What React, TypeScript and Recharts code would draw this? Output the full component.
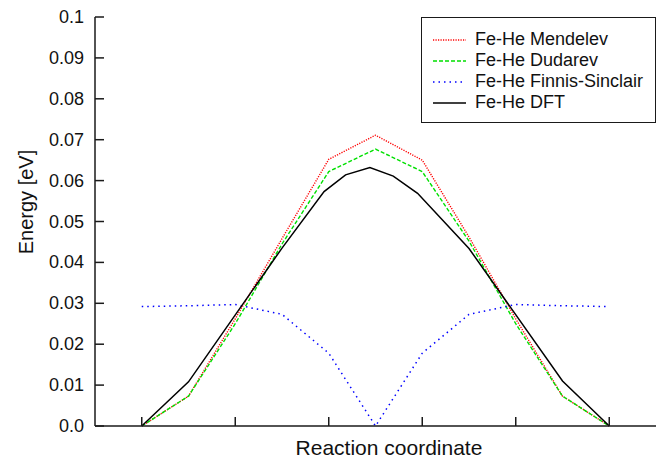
import React from "react";
import { LineChart, Line, XAxis, YAxis, Legend, Label } from "recharts";

// Reaction coordinate positions (axis units) and energies [eV]
const mendelevX = [0.5, 1.0, 1.5, 2.0, 2.5, 3.0, 3.5, 4.0, 4.5, 5.0, 5.5];
const mendelevY = [0, 0.0073, 0.0262, 0.0458, 0.0652, 0.0711, 0.065, 0.0462, 0.0262, 0.0073, 0];

const dudarevX = [0.5, 1.0, 1.5, 2.0, 2.5, 3.0, 3.5, 4.0, 4.5, 5.0, 5.5];
const dudarevY = [0, 0.0073, 0.025, 0.0445, 0.0622, 0.0677, 0.0622, 0.0452, 0.025, 0.0073, 0];

const finnisX = [0.5, 1.0, 1.5, 2.0, 2.5, 3.0, 3.5, 4.0, 4.5, 5.0, 5.5];
const finnisY = [0.0292, 0.0294, 0.0297, 0.0273, 0.0178, 0, 0.0178, 0.0273, 0.0297, 0.0294, 0.0292];

const dftX = [0.5, 1.0, 2.0, 2.45, 2.68, 2.94, 3.19, 3.45, 4.0, 5.0, 5.5];
const dftY = [0, 0.0108, 0.0435, 0.0573, 0.0614, 0.0632, 0.0611, 0.0569, 0.0434, 0.011, 0];

const xTicks = [0.5, 1.5, 2.5, 3.5, 4.5, 5.5];
const yTicks = [0, 0.01, 0.02, 0.03, 0.04, 0.05, 0.06, 0.07, 0.08, 0.09, 0.1];

const seriesNames = ["Fe-He Mendelev", "Fe-He Dudarev", "Fe-He Finnis-Sinclair", "Fe-He DFT"];
const xTitle = "Reaction coordinate";
const yTitle = "Energy [eV]";

const zip = (xs: number[], ys: number[]) => xs.map((x, i) => ({ x, y: ys[i] }));

const W = 662;
const H = 460;
const PL = 95;
const PR = 656;
const PT = 17;
const PB = 426;
const TICK = 9;
const FONT = "'Liberation Sans', Arial, Helvetica, sans-serif";
const AX = "#1a1a1a";

const styles = [
  { color: "#ff0000", dash: "1.2 1.3", width: 1.4 },
  { color: "#00e000", dash: "4 2", width: 1.4 },
  { color: "#0000ff", dash: "1.5 4", width: 1.5 },
  { color: "#000000", dash: undefined as string | undefined, width: 1.5 },
];

const fmtY = (v: number) => (v === 0 ? "0.0" : v === 0.1 ? "0.1" : v.toFixed(2));

const LeftTick = (props: any) => {
  const { y, payload } = props;
  return (
    <g>
      <line x1={PL} x2={PL + TICK} y1={y} y2={y} stroke={AX} strokeWidth={1.5} />
      <text x={84} y={y} textAnchor="end" dominantBaseline="central" fontSize={18} fontFamily={FONT} fill="#111">
        {fmtY(payload.value)}
      </text>
    </g>
  );
};
const RightTick = (props: any) => {
  const { y } = props;
  return <line x1={PR} x2={PR - TICK} y1={y} y2={y} stroke={AX} strokeWidth={1.5} />;
};
const BottomTick = (props: any) => {
  const { x } = props;
  return <line x1={x} x2={x} y1={PB} y2={PB - TICK} stroke={AX} strokeWidth={1.5} />;
};
const TopTick = (props: any) => {
  const { x } = props;
  return <line x1={x} x2={x} y1={PT} y2={PT + TICK} stroke={AX} strokeWidth={1.5} />;
};

const LegendBox = () => (
  <div
    style={{
      width: 235,
      height: 106,
      boxSizing: "border-box",
      border: `1.5px solid ${AX}`,
      background: "#fff",
      paddingTop: 11,
      paddingLeft: 11,
      fontFamily: FONT,
      fontSize: 18,
      color: "#111",
    }}
  >
    {seriesNames.map((name, i) => (
      <div key={name} style={{ height: 21, display: "flex", alignItems: "center", whiteSpace: "nowrap" }}>
        <svg width={33} height={6} style={{ marginRight: 9, flex: "none" }}>
          <line
            x1={0}
            x2={33}
            y1={3}
            y2={3}
            stroke={styles[i].color}
            strokeWidth={styles[i].width}
            strokeDasharray={styles[i].dash}
          />
        </svg>
        <span>{name}</span>
      </div>
    ))}
  </div>
);

export default function App() {
  const series = [
    zip(mendelevX, mendelevY),
    zip(dudarevX, dudarevY),
    zip(finnisX, finnisY),
    zip(dftX, dftY),
  ];
  return (
    <div style={{ position: "absolute", left: 0, top: 0, width: W, height: H, background: "#fff" }}>
      <LineChart width={W} height={H} margin={{ top: PT, right: W - PR, bottom: 0, left: 0 }}>
        <XAxis
          xAxisId="b"
          type="number"
          dataKey="x"
          domain={[0, 6]}
          ticks={xTicks}
          allowDuplicatedCategory={false}
          height={H - PB}
          axisLine={{ stroke: AX, strokeWidth: 1.5 }}
          tickLine={false}
          tick={<BottomTick />}
        >
          <Label
            content={() => (
              <text x={389} y={455} textAnchor="middle" fontSize={21} fontFamily={FONT} fill="#111">
                {xTitle}
              </text>
            )}
          />
        </XAxis>
        <XAxis
          xAxisId="t"
          orientation="top"
          type="number"
          dataKey="x"
          domain={[0, 6]}
          ticks={xTicks}
          height={0}
          axisLine={{ stroke: AX, strokeWidth: 1.5 }}
          tickLine={false}
          tick={<TopTick />}
        />
        <YAxis
          yAxisId="l"
          type="number"
          domain={[0, 0.1]}
          ticks={yTicks}
          width={PL}
          axisLine={{ stroke: AX, strokeWidth: 1.5 }}
          tickLine={false}
          tick={<LeftTick />}
          interval={0}
        >
          <Label
            content={() => (
              <text
                x={33}
                y={202}
                textAnchor="middle"
                fontSize={20}
                fontFamily={FONT}
                fill="#111"
                transform={`rotate(-90, 33, 202)`}
              >
                {yTitle}
              </text>
            )}
          />
        </YAxis>
        <YAxis
          yAxisId="r"
          orientation="right"
          type="number"
          domain={[0, 0.1]}
          ticks={yTicks}
          width={0}
          axisLine={{ stroke: AX, strokeWidth: 1.5 }}
          tickLine={false}
          tick={<RightTick />}
          interval={0}
        />
        <Legend
          layout="horizontal"
          verticalAlign="middle"
          align="center"
          content={<LegendBox />}
          wrapperStyle={{ left: 421, top: PT, width: 235, height: 106 }}
        />
        {series.map((data, i) => (
          <Line
            key={seriesNames[i]}
            name={seriesNames[i]}
            data={data}
            dataKey="y"
            xAxisId="b"
            yAxisId="l"
            type="linear"
            stroke={styles[i].color}
            strokeWidth={styles[i].width}
            strokeDasharray={styles[i].dash}
            dot={false}
            activeDot={false}
            isAnimationActive={false}
          />
        ))}
      </LineChart>
    </div>
  );
}
